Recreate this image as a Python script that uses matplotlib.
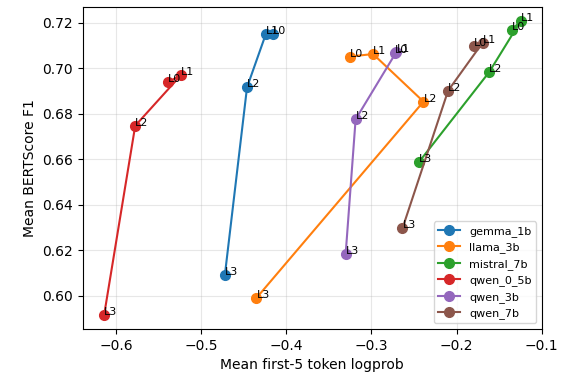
import matplotlib
matplotlib.use("Agg")
import matplotlib.pyplot as plt

models = ["gemma_1b", "llama_3b", "mistral_7b", "qwen_0_5b", "qwen_3b", "qwen_7b"]
layers = ["L0", "L1", "L2", "L3"]
logprob = {
    "gemma_1b":   [-0.416, -0.424, -0.446, -0.472],
    "llama_3b":   [-0.3255, -0.298, -0.2388, -0.435],
    "mistral_7b": [-0.135, -0.1244, -0.1616, -0.244],
    "qwen_0_5b":  [-0.5388, -0.5232, -0.5773, -0.6138],
    "qwen_3b":    [-0.2725, -0.2705, -0.3185, -0.3302],
    "qwen_7b":    [-0.1793, -0.1694, -0.2099, -0.2635],
}
bertscore = {
    "gemma_1b":   [0.7149, 0.7149, 0.6916, 0.6092],
    "llama_3b":   [0.7051, 0.7062, 0.6853, 0.5990],
    "mistral_7b": [0.7167, 0.7209, 0.6983, 0.6588],
    "qwen_0_5b":  [0.6938, 0.6971, 0.6747, 0.5916],
    "qwen_3b":    [0.7065, 0.7072, 0.6775, 0.6183],
    "qwen_7b":    [0.7099, 0.7112, 0.6901, 0.6296],
}

fig = plt.figure(figsize=(5.69, 3.81), dpi=100)
ax = fig.add_axes([0.1453, 0.1365, 0.952 - 0.1453, 0.9824 - 0.1365])

for m in models:
    xs, ys = logprob[m], bertscore[m]
    ax.plot(xs, ys, marker="o", markersize=7, linewidth=1.5, label=m)
    for lab, x, y in zip(layers, xs, ys):
        ax.text(x, y, lab, fontsize=8)

ax.set_xlim(-0.639, -0.1)
ax.set_ylim(0.5854, 0.727)
ax.set_xticks([-0.6, -0.5, -0.4, -0.3, -0.2, -0.1])
ax.set_yticks([0.60, 0.62, 0.64, 0.66, 0.68, 0.70, 0.72])
ax.set_xlabel("Mean first-5 token logprob")
ax.set_ylabel("Mean BERTScore F1")
ax.grid(True, alpha=0.3)
ax.legend(loc="lower right", fontsize=8)

fig.savefig("out.png", dpi=100)
